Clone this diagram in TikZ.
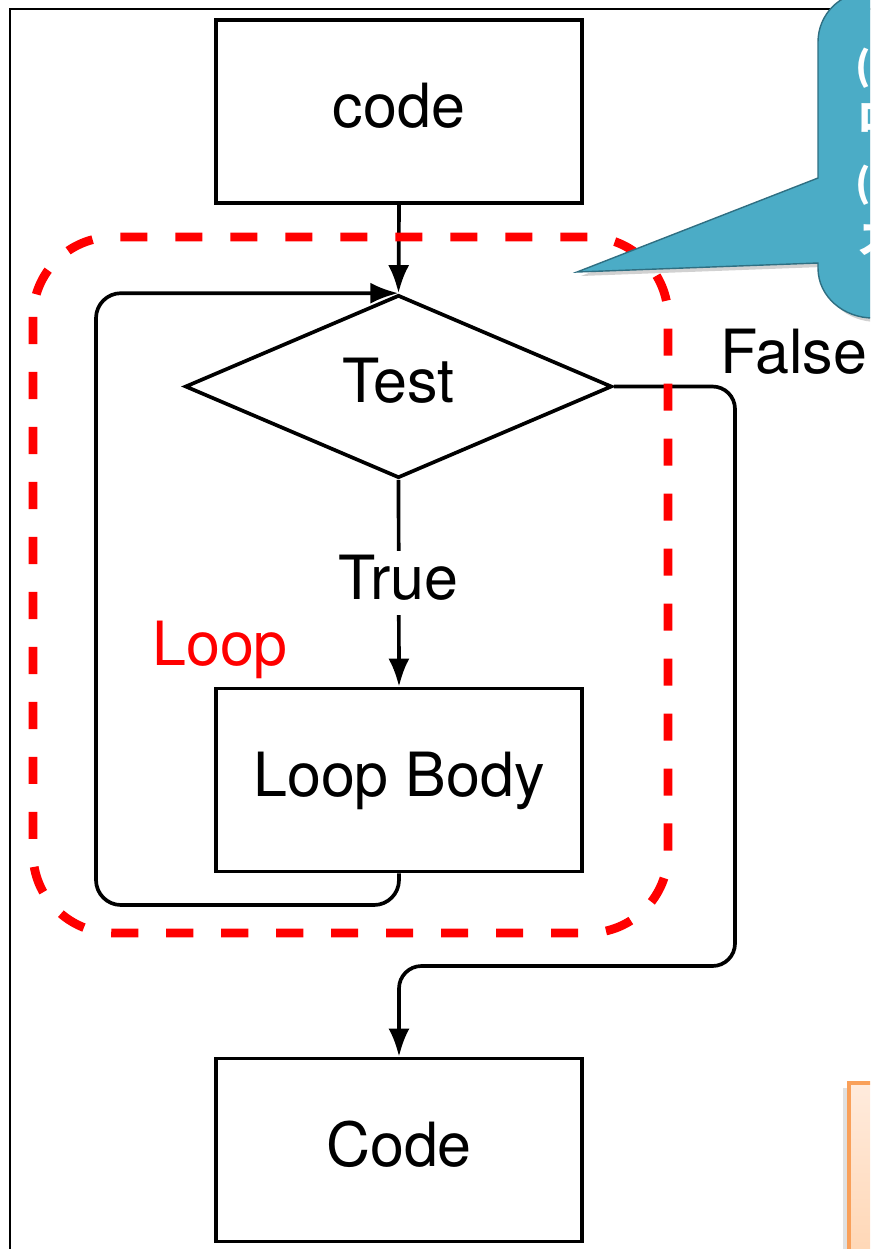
\documentclass[tikz,border=0pt]{standalone}
\usepackage{fontspec}
\setmainfont{TeX Gyre Heros}
\newfontfamily\cjk{Noto Sans CJK JP}
\usetikzlibrary{arrows.meta,positioning,calc,shapes.geometric}
\definecolor{loopRed}{HTML}{FF0000}
\definecolor{noteFill}{HTML}{4BACC6}
\definecolor{noteEdge}{HTML}{2F6F82}
\definecolor{memoTop}{HTML}{FFEBDD}
\definecolor{memoBottom}{HTML}{FFC694}
\definecolor{memoEdge}{HTML}{F9A05A}

\begin{document}
\begin{tikzpicture}[x=0.02cm,y=0.02cm,>={Latex[length=16pt,width=12pt]},
  stepbox/.style={draw,line width=2.1pt,minimum width=7.32cm,minimum height=3.66cm,inner sep=0pt,text depth=7pt},
  testbox/.style={draw,diamond,line width=2.1pt,minimum width=8.54cm,minimum height=3.66cm,inner sep=0pt,text depth=7pt},
  flow/.style={->,line width=2.1pt},
  bigtext/.style={font=\fontsize{34.7}{40}\selectfont},
  notetext/.style={text=white,inner sep=0pt,anchor=west,font=\cjk\bfseries\fontsize{22}{26}\selectfont}]
  \useasboundingbox (0,0) rectangle (870,-1249);
  \begin{scope}
  \clip (0,0) rectangle (870,-1249);
  % frame of the slide
  \draw[line width=1.3pt] (10,-9) rectangle (1000,-1400);

  % flowchart nodes
  \node[stepbox,bigtext] (codeBox) at (399,-111.5) {code};
  \node[testbox,bigtext] (testDiamond) at (398.5,-386.5) {Test};
  \node[stepbox,bigtext] (bodyBox) at (399,-780) {Loop Body};
  \node[stepbox,bigtext] (nextBox) at (399,-1150) {Code};
  \coordinate (loopLeft) at (96,-905);
  \coordinate (falseTurn) at (735,-966);

  % connectors
  \draw[flow] (codeBox.south) -- (testDiamond.north);
  \draw[flow] (testDiamond.south) -- node[fill=white,bigtext,inner sep=2pt,text depth=7pt] (trueLabel) {True} (bodyBox.north);
  \draw[flow,rounded corners=0.5cm] (bodyBox.south) |- (loopLeft) |- (testDiamond.north);
  \draw[flow,rounded corners=0.45cm] (testDiamond.east) -| (falseTurn) -| (nextBox.north);
  \node[bigtext,anchor=west,inner sep=0pt] (falseLabel) at (720,-352) {False};

  % loop region
  \draw[loopRed,line width=5pt,dash pattern=on 15.4pt off 15.9pt,rounded corners=1.6cm]
    (33,-237) rectangle (668,-933);
  \node[bigtext,text=loopRed] (loopLabel) at (220,-650) {Loop};

  % callout
  \fill[black!18] (904,4) -- (872,4) to[out=180,in=90] (822,-46) -- (822,-182) -- (581,-276)
    -- (822,-267) -- (822,-272) to[out=-90,in=180] (877,-322) -- (904,-322) -- cycle;
  \filldraw[fill=noteFill,draw=noteEdge,line width=0.8pt] (900,8) -- (868,8) to[out=180,in=90] (818,-42)
    -- (818,-178) -- (577,-272) -- (818,-263) -- (818,-268) to[out=-90,in=180] (873,-318)
    -- (900,-318) -- cycle;
  \node[notetext] (noteA) at (855,-68) {(1)};
  \node[notetext] (noteB) at (857,-118) {ロ};
  \node[notetext] (noteC) at (855,-185) {(2)};
  \node[notetext] (noteD) at (857,-240) {ス};

  % memo box
  \fill[black!12] (843,-1088) rectangle (849,-1300);
  \shade[top color=memoTop,bottom color=memoBottom] (849,-1083) rectangle (1000,-1400);
  \draw[memoEdge,line width=1.8pt] (849,-1400) -- (849,-1083) -- (1000,-1083);
  \end{scope}
\end{tikzpicture}
\end{document}
